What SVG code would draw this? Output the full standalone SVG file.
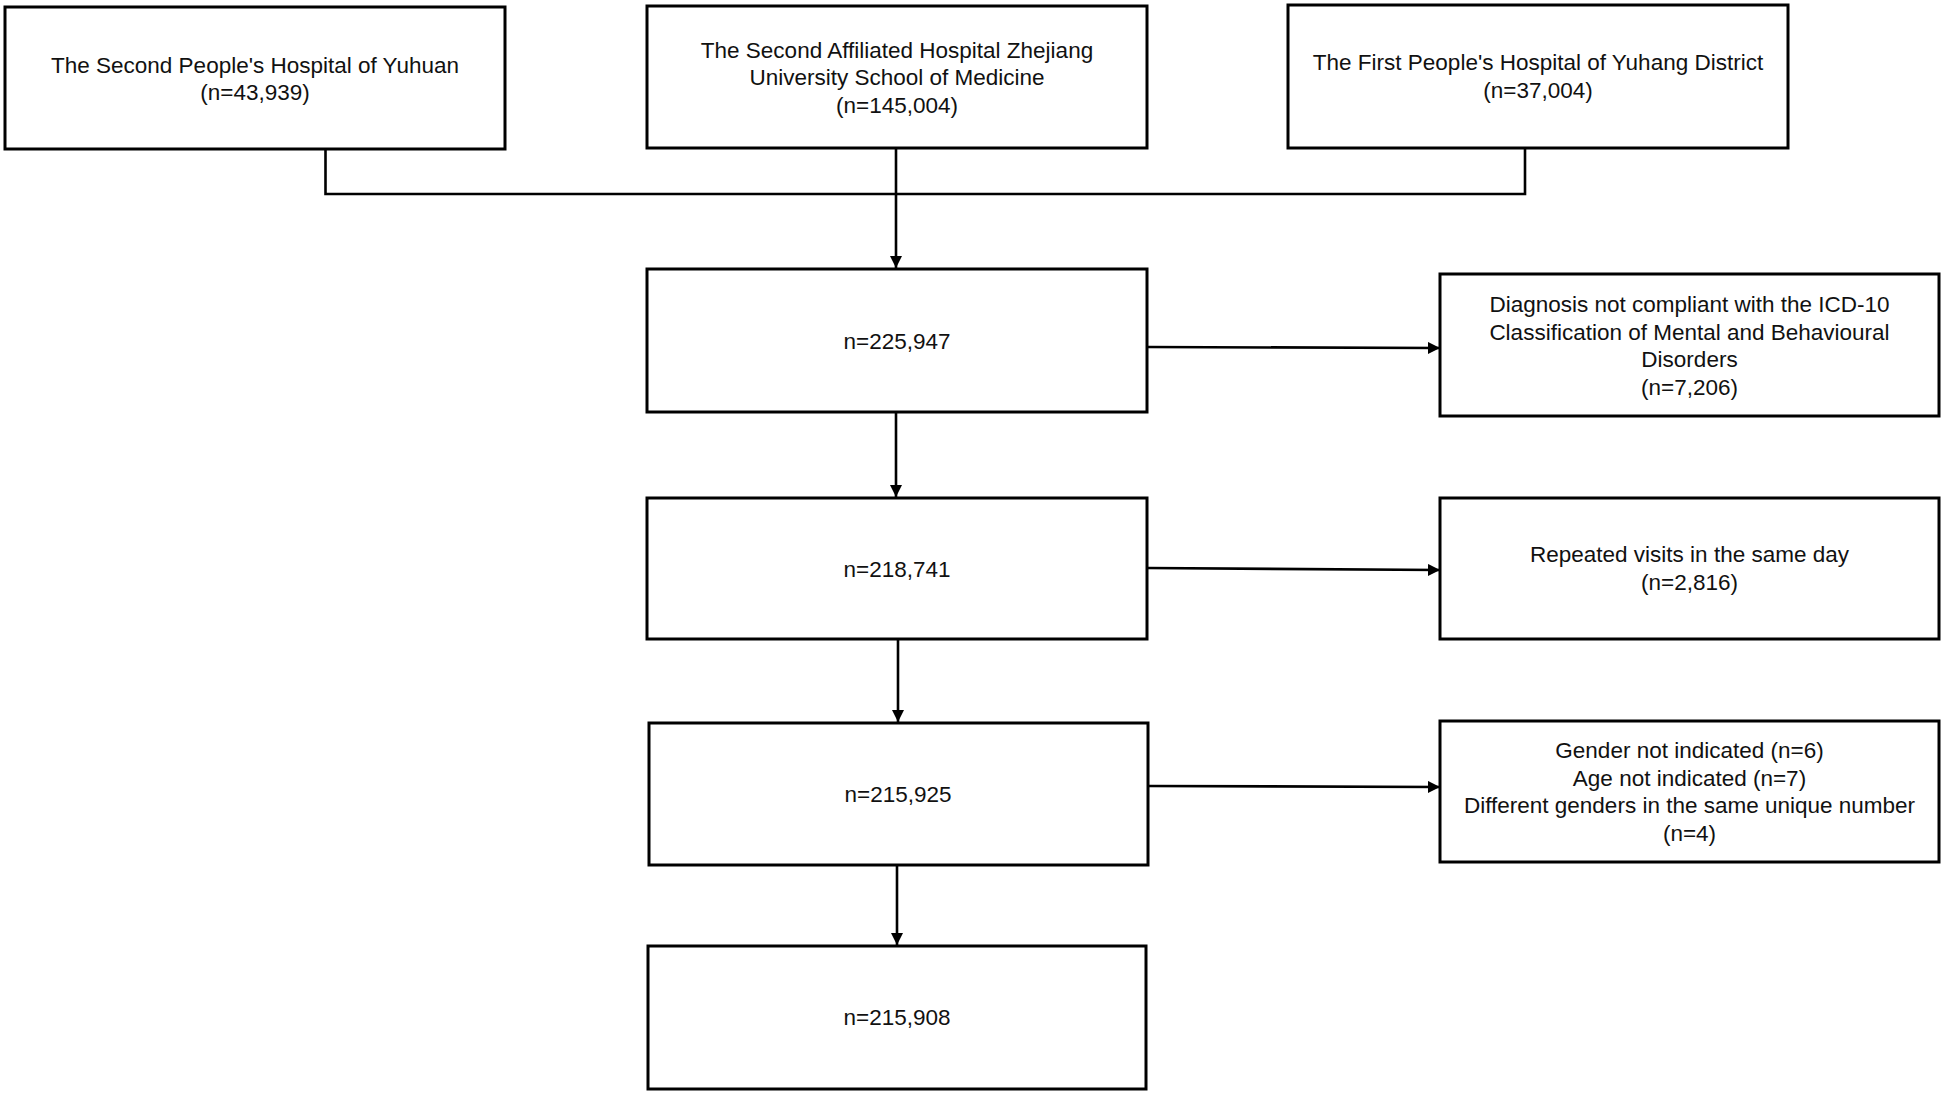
<svg xmlns="http://www.w3.org/2000/svg" width="1944" height="1095" viewBox="0 0 1944 1095">
<style>
.box{fill:#fff;stroke:#000;stroke-width:3}
.t{font-family:"Liberation Sans",Arial,sans-serif;font-size:22.5px;fill:#111;text-anchor:middle}
.c{fill:none;stroke:#000;stroke-width:2.6}
</style>
<defs>
<marker id="ah" markerUnits="userSpaceOnUse" markerWidth="13" markerHeight="13" refX="12" refY="6" orient="auto">
<path d="M0,0 L12,6 L0,12 z" fill="#000"/>
</marker>
</defs>
<rect width="1944" height="1095" fill="#fff"/>
<g id="connectors">
<path class="c" d="M325.5,149 V194 H1525 V149"/>
<path class="c" d="M896,149 V268" marker-end="url(#ah)"/>
<path class="c" d="M1147,347 L1440,348" marker-end="url(#ah)"/>
<path class="c" d="M896,412 V497" marker-end="url(#ah)"/>
<path class="c" d="M1147,568 L1440,570" marker-end="url(#ah)"/>
<path class="c" d="M898,639 V722" marker-end="url(#ah)"/>
<path class="c" d="M1148,786 L1440,787" marker-end="url(#ah)"/>
<path class="c" d="M897,865 V945" marker-end="url(#ah)"/>
</g>
<g id="n1">
<rect class="box" x="5" y="7" width="500" height="142"/>
<text class="t" x="255" y="72.5">The Second People's Hospital of Yuhuan</text>
<text class="t" x="255" y="100">(n=43,939)</text>
</g>
<g id="n2">
<rect class="box" x="647" y="6" width="500" height="142"/>
<text class="t" x="897" y="57.5">The Second Affiliated Hospital Zhejiang</text>
<text class="t" x="897" y="85">University School of Medicine</text>
<text class="t" x="897" y="112.5">(n=145,004)</text>
</g>
<g id="n3">
<rect class="box" x="1288" y="5" width="500" height="143"/>
<text class="t" x="1538" y="70">The First People's Hospital of Yuhang District</text>
<text class="t" x="1538" y="97.5">(n=37,004)</text>
</g>
<g id="n4">
<rect class="box" x="647" y="269" width="500" height="143"/>
<text class="t" x="897" y="348.5">n=225,947</text>
</g>
<g id="n5">
<rect class="box" x="647" y="498" width="500" height="141"/>
<text class="t" x="897" y="577">n=218,741</text>
</g>
<g id="n6">
<rect class="box" x="649" y="723" width="499" height="142"/>
<text class="t" x="898" y="802">n=215,925</text>
</g>
<g id="n7">
<rect class="box" x="648" y="946" width="498" height="143"/>
<text class="t" x="897" y="1025">n=215,908</text>
</g>
<g id="n8">
<rect class="box" x="1440" y="274" width="499" height="142"/>
<text class="t" x="1689.5" y="312">Diagnosis not compliant with the ICD-10</text>
<text class="t" x="1689.5" y="339.5">Classification of Mental and Behavioural</text>
<text class="t" x="1689.5" y="367">Disorders</text>
<text class="t" x="1689.5" y="394.5">(n=7,206)</text>
</g>
<g id="n9">
<rect class="box" x="1440" y="498" width="499" height="141"/>
<text class="t" x="1689.5" y="562">Repeated visits in the same day</text>
<text class="t" x="1689.5" y="589.5">(n=2,816)</text>
</g>
<g id="n10">
<rect class="box" x="1440" y="721" width="499" height="141"/>
<text class="t" x="1689.5" y="758">Gender not indicated (n=6)</text>
<text class="t" x="1689.5" y="785.5">Age not indicated (n=7)</text>
<text class="t" x="1689.5" y="813">Different genders in the same unique number</text>
<text class="t" x="1689.5" y="840.5">(n=4)</text>
</g>
</svg>
